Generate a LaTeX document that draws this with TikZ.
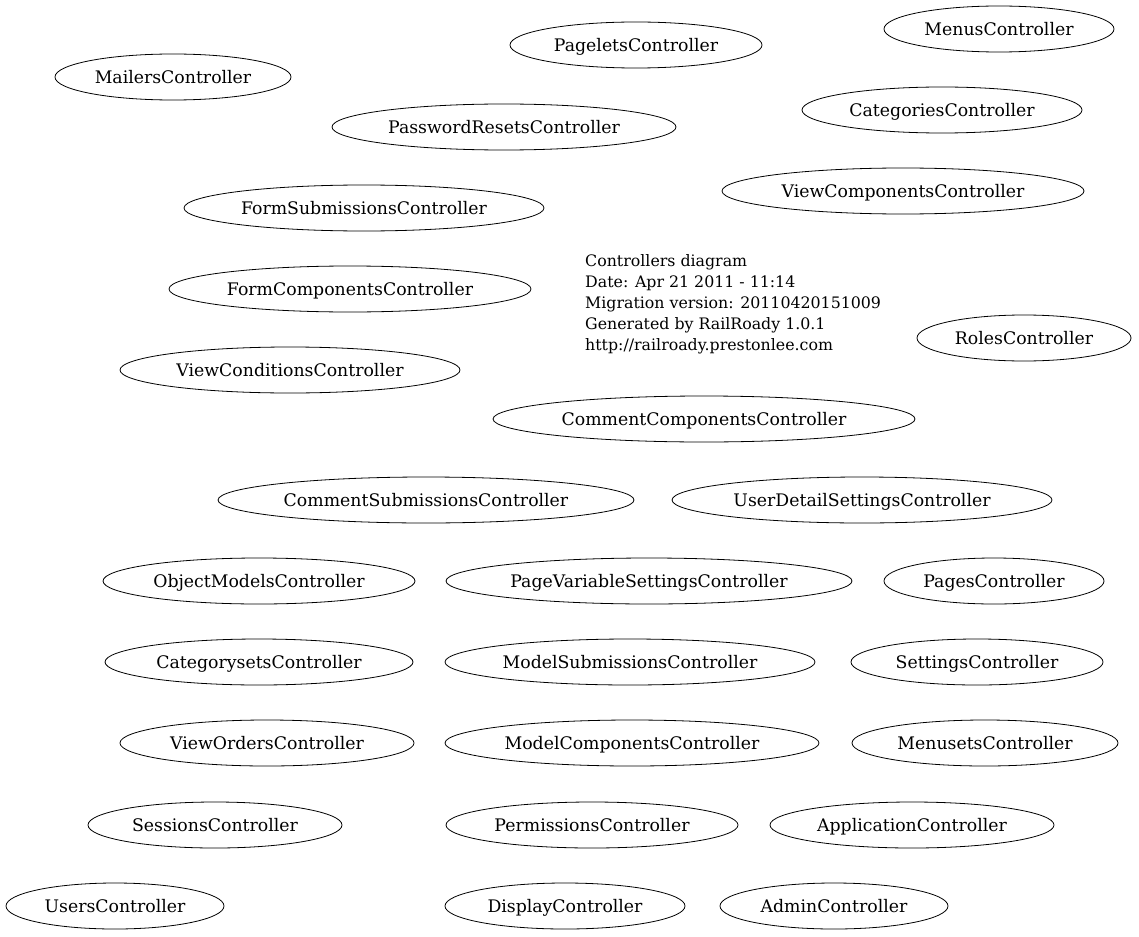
\documentclass[tikz,border=0pt]{standalone}
\usepackage{fontspec}
\setmainfont{DejaVu Serif}
\usetikzlibrary{shapes.geometric}

\begin{document}
\begin{tikzpicture}[x=1pt,y=-1pt]

% ----------------------------
% Styles
% ----------------------------
\tikzset{
	ctrl/.style={draw,ellipse,line width=0.8pt,minimum height=46pt,inner sep=0pt,
		text height=12.4pt,text depth=0pt,
		font=\fontsize{17.3}{19}\selectfont},
	info/.style={anchor=north west,align=left,inner sep=0pt,
		font=\fontsize{15.8}{21}\selectfont}
}

% page frame (graphviz margins)
\useasboundingbox (0,0) rectangle (1139,936);

% ============================================================
% Controller nodes: name / x / y / half width
% ============================================================
\foreach \nm/\x/\y/\r in {
	MenusController/999/29/115,
	PageletsController/636/45/126,
	MailersController/173/77/118,
	CategoriesController/942/110/140,
	PasswordResetsController/504/127/172,
	ViewComponentsController/903/191/181,
	FormSubmissionsController/364/208/180,
	FormComponentsController/350/289/181,
	RolesController/1024/338/107,
	ViewConditionsController/290/370/170,
	CommentComponentsController/704/419/211,
	CommentSubmissionsController/426/500/208,
	UserDetailSettingsController/862/500/190,
	ObjectModelsController/259/581/156,
	PageVariableSettingsController/649/581/203,
	PagesController/994/581/110,
	CategorysetsController/259/662/154,
	ModelSubmissionsController/630/662/185,
	SettingsController/977/662/126,
	ViewOrdersController/267/743/147,
	ModelComponentsController/632/743/187,
	MenusetsController/985/743/133,
	SessionsController/215/825/127,
	PermissionsController/592/825/146,
	ApplicationController/912/825/142,
	UsersController/115/906/109,
	DisplayController/565/906/120,
	AdminController/834/906/114}{
	\node[ctrl,minimum width=2*\r pt] (\nm) at (\x,\y) {\nm};
}

% Diagram info
\node[info] (diagInfo) at (585,254) {Controllers diagram\\
	Date: Apr 21 2011 - 11:14\\
	Migration version: 20110420151009\\
	Generated by RailRoady 1.0.1\\
	http://railroady.prestonlee.com};

\end{tikzpicture}
\end{document}
